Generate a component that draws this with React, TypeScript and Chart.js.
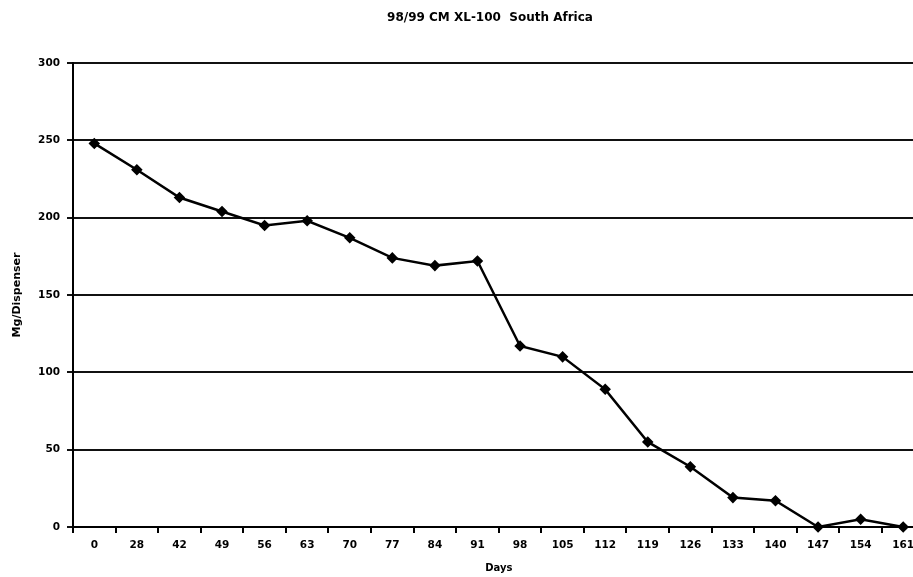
import React, { useEffect, useRef } from "react";
import { Chart, registerables } from "chart.js";

Chart.register(...registerables);

const TITLE = "98/99 CM XL-100  South Africa";
const X_TITLE = "Days";
const Y_TITLE = "Mg/Dispenser";
const days = ["0", "28", "42", "49", "56", "63", "70", "77", "84", "91", "98", "105", "112", "119", "126", "133", "140", "147", "154", "161"];
const mgPerDispenser = [248, 231, 213, 204, 195, 198, 187, 174, 169, 172, 117, 110, 89, 55, 39, 19, 17, 0, 5, 0];
const Y_MIN = 0;
const Y_MAX = 300;
const Y_STEP = 50;

const FONT = '"DejaVu Sans", "Liberation Sans", Arial, sans-serif';

const titlePlugin = {
  id: "centerTitle",
  afterDraw(chart: any) {
    const { ctx } = chart;
    ctx.save();
    ctx.font = `bold 12px ${FONT}`;
    ctx.fillStyle = "#000";
    ctx.textAlign = "center";
    ctx.textBaseline = "middle";
    ctx.fillText(TITLE, 490, 18);
    ctx.restore();
  },
};

export default function App() {
  const ref = useRef<HTMLCanvasElement | null>(null);
  useEffect(() => {
    if (!ref.current) return;
    const chart = new Chart(ref.current, {
      type: "line",
      data: {
        labels: days,
        datasets: [
          {
            data: mgPerDispenser,
            borderColor: "#000",
            backgroundColor: "#000",
            borderWidth: 2.5,
            pointStyle: "rectRot",
            pointRadius: 4,
            pointBackgroundColor: "#000",
            pointBorderColor: "#000",
            tension: 0,
            clip: false as any,
          },
        ],
      },
      plugins: [titlePlugin],
      options: {
        animation: false,
        responsive: false,
        devicePixelRatio: 1,
        layout: { padding: { top: 63, right: 0, left: 0, bottom: 0 } },
        plugins: { legend: { display: false }, tooltip: { enabled: false }, title: { display: false } },
        scales: {
          x: {
            type: "category",
            offset: true,
            afterFit(scale: any) {
              scale.height = 50;
            },
            grid: {
              offset: true,
              drawOnChartArea: false,
              drawTicks: true,
              tickLength: 6,
              color: "#000",
              lineWidth: 2,
            },
            border: { display: true, color: "#000", width: 2 },
            ticks: {
              autoSkip: false,
              maxRotation: 0,
              color: "#000",
              padding: 6,
              font: { family: FONT, weight: "bold", size: 10.5 },
            },
            title: {
              display: true,
              text: X_TITLE,
              color: "#000",
              padding: { top: 0, bottom: 3 },
              font: { family: FONT, weight: "bold", size: 10 },
            },
          },
          y: {
            min: Y_MIN,
            max: Y_MAX,
            afterFit(scale: any) {
              scale.width = 73;
            },
            ticks: {
              stepSize: Y_STEP,
              color: "#000",
              padding: 7,
              font: { family: FONT, weight: "bold", size: 10.5 },
            },
            grid: {
              color: "#111",
              lineWidth: 2,
              drawTicks: true,
              tickLength: 6,
            },
            border: { display: true, color: "#000", width: 2 },
            title: {
              display: true,
              text: Y_TITLE,
              color: "#000",
              padding: { top: 11, bottom: 0 },
              font: { family: FONT, weight: "bold", size: 11 },
            },
          },
        },
      },
    } as any);
    return () => chart.destroy();
  }, []);
  return (
    <div style={{ position: "fixed", left: 0, top: 0, width: 913, height: 577, overflow: "hidden", background: "#fff" }}>
      <canvas ref={ref} width={931} height={577} style={{ display: "block" }} />
    </div>
  );
}
